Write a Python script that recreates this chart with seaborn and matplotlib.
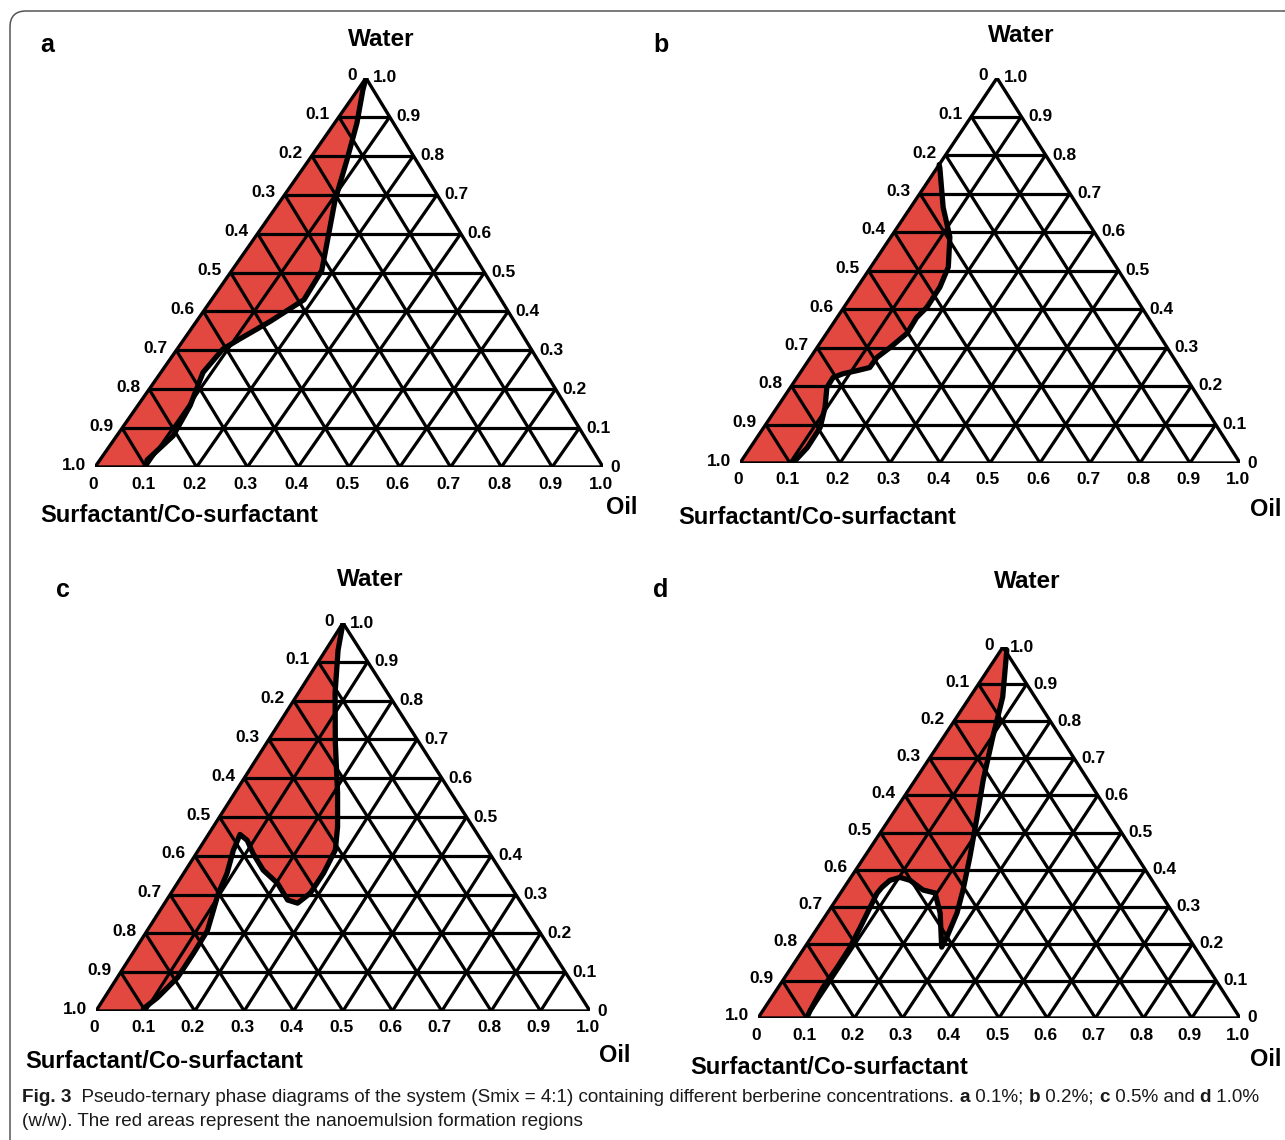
import matplotlib
matplotlib.use("Agg")
import matplotlib.pyplot as plt
from matplotlib.patches import FancyBboxPatch
from matplotlib import font_manager
import seaborn as sns

# ---------------- data ----------------
TICKS = [0.0, 0.1, 0.2, 0.3, 0.4, 0.5, 0.6, 0.7, 0.8, 0.9, 1.0]
TICK_LABELS = ["0", "0.1", "0.2", "0.3", "0.4", "0.5", "0.6", "0.7", "0.8", "0.9", "1.0"]

# nanoemulsion region boundaries (oil fraction, water fraction), from top to bottom
A_OIL = [0.00, 0.010, 0.044, 0.075, 0.107, 0.144, 0.177, 0.182, 0.145, 0.110, 0.090, 0.083, 0.103, 0.111, 0.093, 0.100]
A_WATER = [1.00, 0.970, 0.884, 0.789, 0.685, 0.590, 0.505, 0.430, 0.374, 0.330, 0.303, 0.243, 0.158, 0.080, 0.018, 0.000]

B_OIL = [0.000, 0.006, 0.065, 0.118, 0.155, 0.165, 0.166, 0.159, 0.161, 0.146, 0.133, 0.132, 0.111, 0.087, 0.072,
         0.073, 0.096, 0.113, 0.114, 0.106]
B_WATER = [0.775, 0.766, 0.664, 0.587, 0.509, 0.457, 0.405, 0.378, 0.337, 0.300, 0.274, 0.248, 0.240, 0.232, 0.222,
           0.196, 0.144, 0.092, 0.040, 0.000]

C_OIL = [0.000, 0.025, 0.074, 0.139, 0.208, 0.252, 0.277, 0.283, 0.282, 0.269, 0.245, 0.203, 0.157, 0.115, 0.086,
         0.064, 0.071, 0.088, 0.096, 0.108, 0.122, 0.123, 0.122, 0.107, 0.093, 0.100]
C_WATER = [1.000, 0.930, 0.820, 0.691, 0.562, 0.474, 0.415, 0.355, 0.304, 0.278, 0.286, 0.329, 0.363, 0.406, 0.440,
           0.455, 0.414, 0.354, 0.303, 0.259, 0.207, 0.148, 0.086, 0.034, 0.006, 0.000]

D_OIL = [0.000, 0.012, 0.068, 0.102, 0.141, 0.179, 0.219, 0.250, 0.269, 0.281, 0.284, 0.234, 0.196, 0.167, 0.127,
         0.102, 0.085, 0.078, 0.076, 0.081, 0.088, 0.094, 0.095, 0.093, 0.098, 0.101]
D_WATER = [1.000, 0.992, 0.865, 0.758, 0.642, 0.542, 0.434, 0.345, 0.283, 0.218, 0.191, 0.283, 0.337, 0.345, 0.371,
           0.379, 0.371, 0.352, 0.336, 0.298, 0.244, 0.190, 0.136, 0.082, 0.020, 0.000]

PANEL_LETTERS = ["a", "b", "c", "d"]
TOP_LABEL = "Water"
LEFT_LABEL = "Surfactant/Co-surfactant"
RIGHT_LABEL = "Oil"
CAPTION_LINE1 = [("Fig. 3", True),
                 ("  Pseudo-ternary phase diagrams of the system (Smix = 4:1) containing different berberine concentrations. ", False),
                 ("a", True), (" 0.1%; ", False), ("b", True), (" 0.2%; ", False), ("c", True),
                 (" 0.5% and ", False), ("d", True), (" 1.0%", False)]
CAPTION_LINE2 = [("(w/w). The red areas represent the nanoemulsion formation regions", False)]

# ---------------- layout (pixels) ----------------
W, H = 1285, 1140
LAYOUT = [
    dict(bl=(95, 467), br_x=603, apex=(366, 78), letter=(47, 45), top=(381, 39), left=(40, 516), right=(622, 508)),
    dict(bl=(740, 463), br_x=1240, apex=(997, 78), letter=(661, 45), top=(1021, 35), left=(678, 517), right=(1266, 509)),
    dict(bl=(96, 1011), br_x=590, apex=(343, 623), letter=(63, 590), top=(370, 580), left=(25, 1061), right=(615, 1055)),
    dict(bl=(758, 1018), br_x=1240, apex=(1003, 647), letter=(661, 590), top=(1027, 582), left=(690, 1068), right=(1266, 1060)),
]
REGIONS = [(A_OIL, A_WATER), (B_OIL, B_WATER), (C_OIL, C_WATER), (D_OIL, D_WATER)]
RED = "#e2483f"

sns.set_theme(style="white")
plt.rcParams['font.family'] = ['Liberation Sans', 'DejaVu Sans']
plt.rcParams['text.color'] = 'black'


def has_font(name):
    try:
        font_manager.findfont(font_manager.FontProperties(family=name), fallback_to_default=False)
        return True
    except Exception:
        return False


CAP_FAMILY = ['Liberation Sans Narrow', 'Liberation Sans', 'DejaVu Sans'] if has_font('Liberation Sans Narrow') \
    else ['Liberation Sans', 'DejaVu Sans']

fig = plt.figure(figsize=(W / 100, H / 100), dpi=100)
bg = fig.add_axes([0, 0, 1, 1])
bg.set_xlim(0, W)
bg.set_ylim(H, 0)
bg.axis('off')
bg.add_patch(FancyBboxPatch((10, 11), W + 60, H + 60, boxstyle="round,pad=0,rounding_size=16",
                            fc='none', ec='#555555', lw=1.1))

GRID_LW = 2.3
EDGE_LW = 2.4
BOUND_LW = 3.8


def draw_panel(lay, oil, water, letter):
    blx, bly = lay['bl']
    ax_x0 = blx / W
    ax_y0 = 1 - bly / H
    ax_w = (lay['br_x'] - blx) / W
    ax_h = (bly - lay['apex'][1]) / H
    apex_frac = (lay['apex'][0] - blx) / (lay['br_x'] - blx)
    ax = fig.add_axes([ax_x0, ax_y0, ax_w, ax_h])
    ax.patch.set_alpha(0)

    def xy(o, w):
        return o + w * apex_frac, w

    # red region
    pts = [xy(0.0, 0.0)] + [xy(o, w) for o, w in zip(oil, water)]
    ax.fill([p[0] for p in pts], [p[1] for p in pts], color=RED, lw=0, zorder=1)

    # grid
    for v in TICKS[1:-1]:
        segs = [((0, v), (1 - v, v)), ((v, 0), (v, 1 - v)), ((1 - v, 0), (0, 1 - v))]
        for (o1, w1), (o2, w2) in segs:
            p1, p2 = xy(o1, w1), xy(o2, w2)
            ax.plot([p1[0], p2[0]], [p1[1], p2[1]], color='black', lw=GRID_LW, zorder=2,
                    solid_capstyle='butt')
    tri = [xy(0, 0), xy(1, 0), xy(0, 1), xy(0, 0)]
    ax.plot([p[0] for p in tri], [p[1] for p in tri], color='black', lw=EDGE_LW, zorder=2,
            solid_joinstyle='miter')

    # boundary
    bx = [xy(o, w)[0] for o, w in zip(oil, water)]
    by = [xy(o, w)[1] for o, w in zip(oil, water)]
    sns.lineplot(x=bx, y=by, sort=False, estimator=None, color='black', lw=BOUND_LW, ax=ax, zorder=3,
                 solid_joinstyle='round', solid_capstyle='round')

    # tick labels
    kw = dict(textcoords='offset pixels', fontsize=12.5, fontweight='bold', annotation_clip=False, color='black')
    for t, lab in zip(TICKS, TICK_LABELS):
        # left edge: surfactant fraction (0 at apex, 1 at bottom-left)
        ax.annotate(lab, xy=xy(0, 1 - t), xytext=(-9, 2), ha='right', va='center', **kw)
        # right edge: water fraction
        ax.annotate(lab, xy=xy(1 - t, t), xytext=(7, 0), ha='left', va='center', **kw)
        # bottom: oil fraction
        ax.annotate(lab, xy=xy(t, 0), xytext=(-2, -17), ha='center', va='center', **kw)

    ax.set_xlim(0, 1)
    ax.set_ylim(0, 1)
    ax.axis('off')

    # titles
    bg.text(*lay['letter'], letter, fontsize=18, fontweight='bold', ha='center', va='center')
    bg.text(*lay['top'], TOP_LABEL, fontsize=17.5, fontweight='bold', ha='center', va='center')
    bg.text(*lay['left'], LEFT_LABEL, fontsize=17, fontweight='bold', ha='left', va='center')
    bg.text(*lay['right'], RIGHT_LABEL, fontsize=17, fontweight='bold', ha='center', va='center')


for lay, (oil, water), letter in zip(LAYOUT, REGIONS, PANEL_LETTERS):
    draw_panel(lay, oil, water, letter)

# caption
renderer = fig.canvas.get_renderer()


def draw_runs(runs, x0, y, size):
    x = x0
    objs = []
    for s, bold in runs:
        t = bg.text(x, y, s, fontsize=size, fontweight='bold' if bold else 'normal', family=CAP_FAMILY,
                    ha='left', va='center', color='#1a1a1a')
        x += t.get_window_extent(renderer).width
        objs.append(t)
    return x, objs


end, objs = draw_runs(CAPTION_LINE1, 22, 1097, 10)
for o in objs:
    o.remove()
cap_size = 10 * (1266 - 22) / (end - 22)
draw_runs(CAPTION_LINE1, 22, 1097, cap_size)
draw_runs(CAPTION_LINE2, 22, 1122, cap_size)

fig.savefig('out.png', dpi=100)
